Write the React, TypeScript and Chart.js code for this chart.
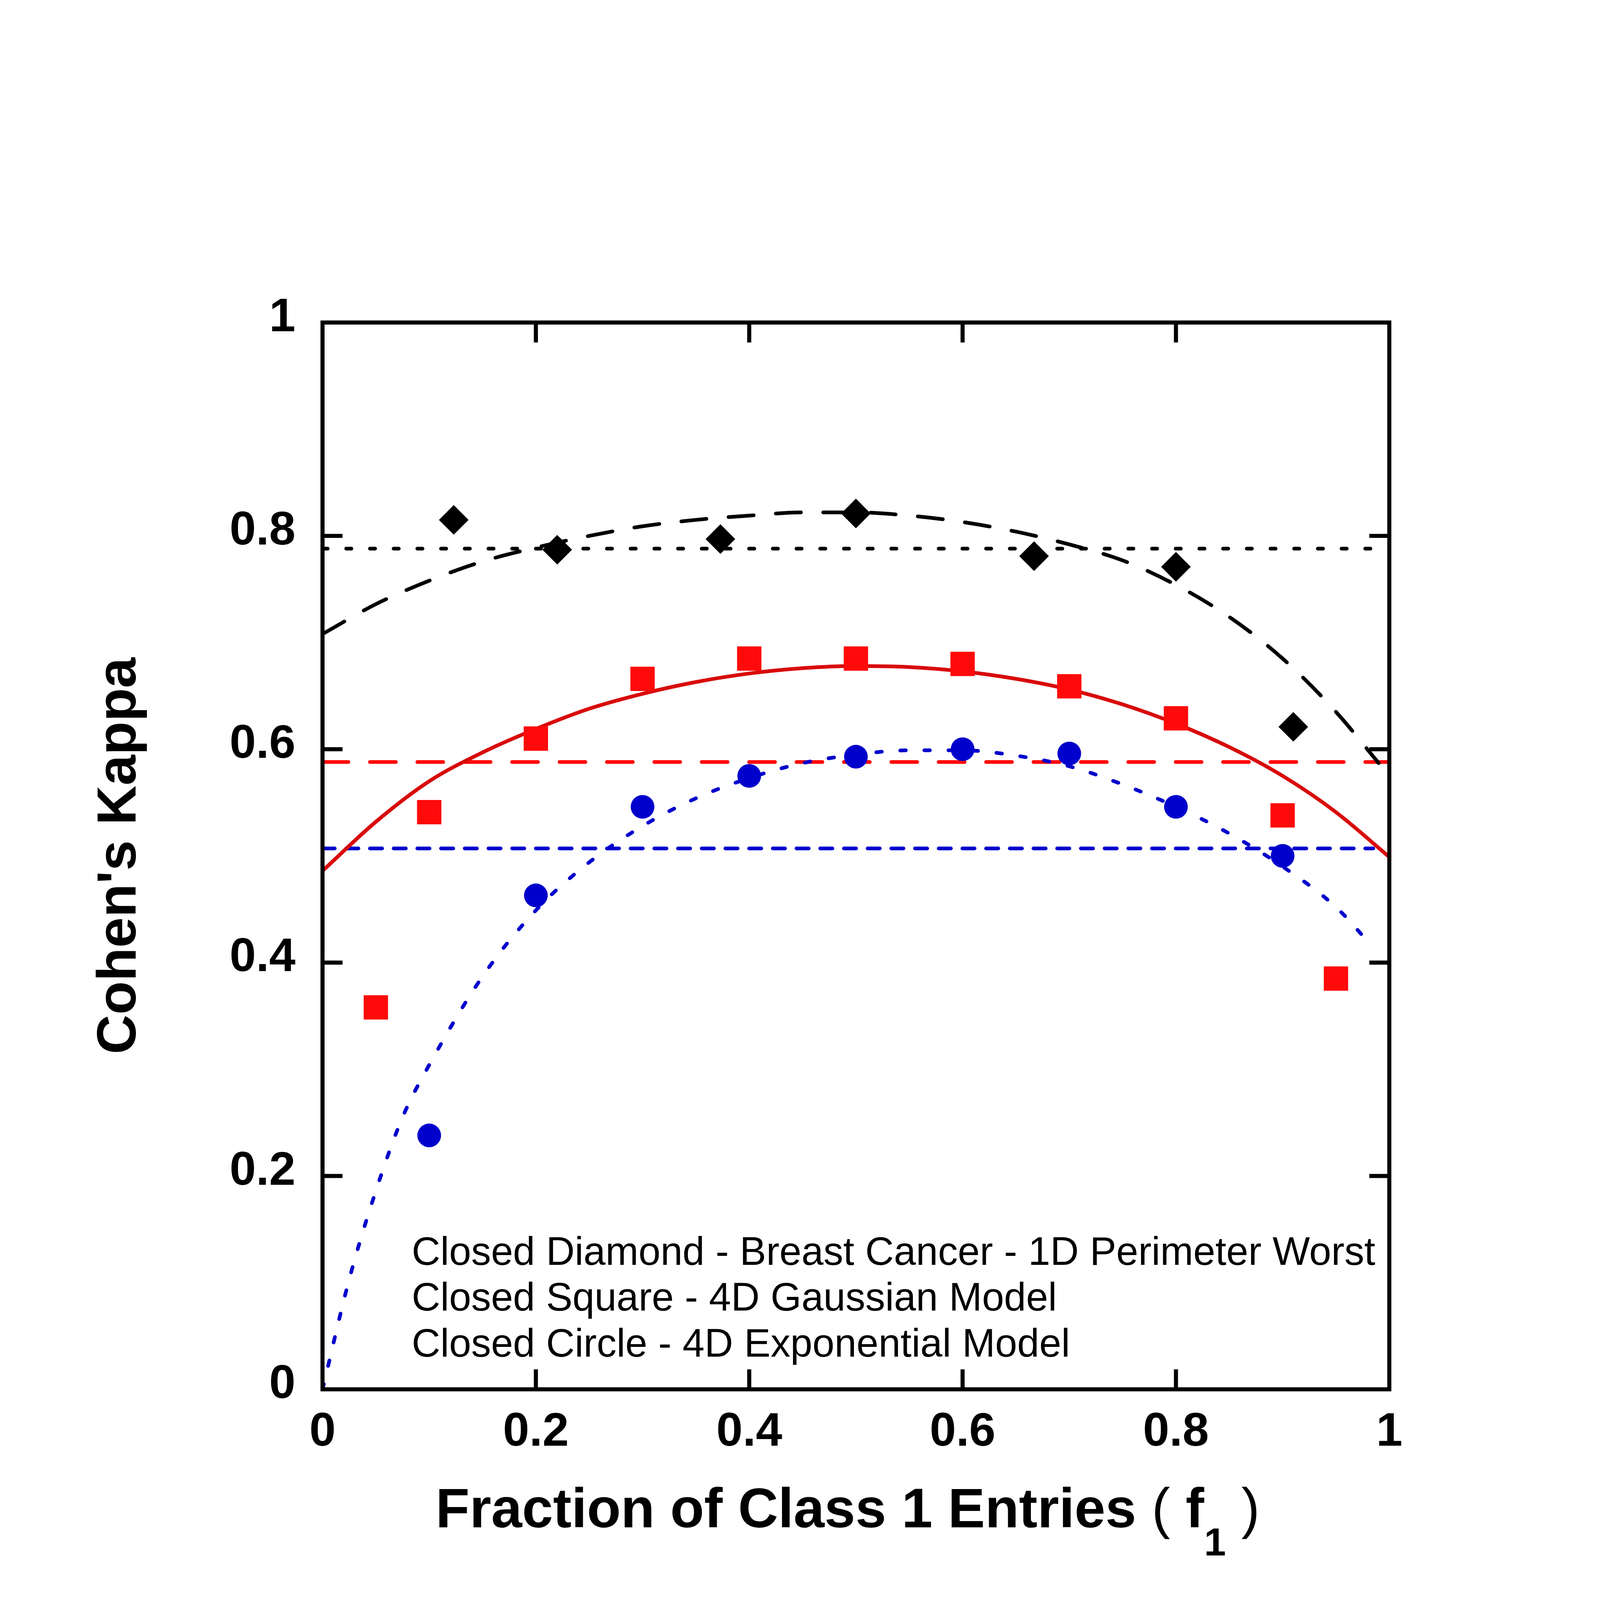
import { useEffect, useRef } from 'react';
import { Chart, registerables } from 'chart.js';

Chart.register(...registerables);

// measured points
const diamondX = [0.123, 0.22, 0.373, 0.5, 0.667, 0.8, 0.91];
const diamondY = [0.815, 0.787, 0.797, 0.821, 0.781, 0.771, 0.621];

const squareX = [0.05, 0.1, 0.2, 0.3, 0.4, 0.5, 0.6, 0.7, 0.8, 0.9, 0.95];
const squareY = [0.358, 0.541, 0.61, 0.666, 0.685, 0.685, 0.68, 0.659, 0.629, 0.538, 0.385];

const circleX = [0.1, 0.2, 0.3, 0.4, 0.5, 0.6, 0.7, 0.8, 0.9];
const circleY = [0.238, 0.463, 0.546, 0.575, 0.593, 0.6, 0.596, 0.546, 0.5];

// fitted curves
const bcFitX = [0, 0.05, 0.1, 0.15, 0.2, 0.25, 0.3, 0.35, 0.4, 0.45, 0.5, 0.55, 0.6, 0.65, 0.7, 0.75, 0.8, 0.85, 0.9, 0.95, 0.99];
const bcFitY = [0.708, 0.736, 0.758, 0.776, 0.789, 0.8, 0.809, 0.815, 0.819, 0.822, 0.822, 0.819, 0.813, 0.804, 0.792, 0.777, 0.754, 0.724, 0.685, 0.635, 0.587];

const gaussFitX = [0, 0.05, 0.1, 0.15, 0.2, 0.25, 0.3, 0.35, 0.4, 0.45, 0.5, 0.55, 0.6, 0.65, 0.7, 0.75, 0.8, 0.85, 0.9, 0.95, 1.0];
const gaussFitY = [0.486, 0.532, 0.57, 0.597, 0.619, 0.638, 0.652, 0.663, 0.671, 0.676, 0.678, 0.677, 0.673, 0.666, 0.656, 0.642, 0.624, 0.602, 0.575, 0.541, 0.499];

const expFitX = [0, 0.025, 0.05, 0.075, 0.1, 0.15, 0.2, 0.25, 0.3, 0.35, 0.4, 0.45, 0.5, 0.55, 0.6, 0.65, 0.7, 0.75, 0.8, 0.85, 0.9, 0.95, 0.985];
const expFitY = [0, 0.103, 0.186, 0.255, 0.304, 0.387, 0.449, 0.494, 0.528, 0.554, 0.573, 0.587, 0.595, 0.599, 0.599, 0.594, 0.584, 0.567, 0.546, 0.521, 0.49, 0.452, 0.414];

// mean levels (horizontal lines)
const meanX = [0, 0.985];
const bcMean = [0.788, 0.788];
const gaussMean = [0.588, 0.588];
const expMean = [0.507, 0.507];

const notes = [
  'Closed Diamond - Breast Cancer - 1D Perimeter Worst',
  'Closed Square - 4D Gaussian Model',
  'Closed Circle - 4D Exponential Model',
];

const FONT = "'Liberation Sans', Arial, Helvetica, sans-serif";
const SIZE = 4321;

const pts = (xs: number[], ys: number[]) => xs.map((x, i) => ({ x, y: ys[i] }));

const ChartView = () => {
  const canvasRef = useRef<HTMLCanvasElement>(null);
  const W = Math.min(window.innerWidth || SIZE, window.innerHeight || SIZE, SIZE);
  const s = W / SIZE;
  const k = (v: number) => v * s;

  useEffect(() => {
    if (!canvasRef.current) return;
    const black = '#000000';
    const red = '#ff0a0a';
    const redLine = '#d80a0a';
    const blue = '#0000cc';

    const framePlugin = {
      id: 'frame',
      afterDatasetsDraw(chart: any) {
        const { ctx, chartArea, scales } = chart;
        const { left, right, top, bottom } = chartArea;
        const x = scales.x;
        const y = scales.y;
        const len = k(54);
        ctx.save();
        ctx.setLineDash([]);
        ctx.strokeStyle = '#000';
        ctx.lineWidth = k(11);
        ctx.lineCap = 'butt';
        ctx.beginPath();
        x.ticks.forEach((t: any) => {
          if (t.value <= x.min || t.value >= x.max) return;
          const px = x.getPixelForValue(t.value);
          ctx.moveTo(px, bottom);
          ctx.lineTo(px, bottom - len);
          ctx.moveTo(px, top);
          ctx.lineTo(px, top + len);
        });
        y.ticks.forEach((t: any) => {
          if (t.value <= y.min || t.value >= y.max) return;
          const py = y.getPixelForValue(t.value);
          ctx.moveTo(left, py);
          ctx.lineTo(left + len, py);
          ctx.moveTo(right, py);
          ctx.lineTo(right - len, py);
        });
        ctx.stroke();
        ctx.lineJoin = 'miter';
        ctx.strokeRect(left, top, right - left, bottom - top);
        ctx.restore();
      },
    };

    const textPlugin = {
      id: 'texts',
      afterDraw(chart: any) {
        const { ctx, chartArea } = chart;
        const { left, right, bottom } = chartArea;
        ctx.save();
        ctx.fillStyle = '#000';
        ctx.textBaseline = 'alphabetic';
        ctx.textAlign = 'left';

        // notes inside the plot
        ctx.font = `normal ${k(107)}px ${FONT}`;
        const noteBase = [bottom - k(336), bottom - k(213), bottom - k(88)];
        notes.forEach((t, i) => ctx.fillText(t, left + k(241), noteBase[i]));

        // x axis title with subscript
        const parts = [
          { t: 'Fraction of Class 1 Entries ', f: `bold ${k(150)}px ${FONT}`, dy: 0 },
          { t: '(', f: `normal ${k(150)}px ${FONT}`, dy: 0 },
          { t: ' f', f: `bold ${k(150)}px ${FONT}`, dy: 0 },
          { t: '1', f: `bold ${k(106)}px ${FONT}`, dy: k(76) },
          { t: ' ', f: `bold ${k(150)}px ${FONT}`, dy: 0 },
          { t: ')', f: `normal ${k(150)}px ${FONT}`, dy: 0 },
        ];
        let total = 0;
        const widths = parts.map((p) => {
          ctx.font = p.f;
          const w = ctx.measureText(p.t).width;
          total += w;
          return w;
        });
        let cx = (left + right) / 2 - k(22) - total / 2;
        const base = bottom + k(373);
        parts.forEach((p, i) => {
          ctx.font = p.f;
          ctx.fillText(p.t, cx, base + p.dy);
          cx += widths[i];
        });
        ctx.restore();
      },
    };

    const marker = (label: string, data: any, color: string, style: string, r: number) => ({
      label,
      data,
      showLine: false,
      pointStyle: style,
      pointRadius: k(r),
      pointHoverRadius: k(r),
      pointBackgroundColor: color,
      pointBorderWidth: 0,
      pointBorderColor: color,
    });

    const line = (label: string, data: any, color: string, dash: number[], smooth: boolean) => ({
      label,
      data,
      showLine: true,
      pointRadius: 0,
      pointHoverRadius: 0,
      borderColor: color,
      borderWidth: k(10),
      borderDash: dash.map(k),
      borderCapStyle: dash.length ? 'round' : 'butt',
      cubicInterpolationMode: smooth ? 'monotone' : 'default',
      fill: false,
    });

    const tickLabel = (v: any) => `${+Number(v).toFixed(2)}`;

    const chart = new Chart(canvasRef.current, {
      type: 'scatter',
      data: {
        datasets: [
          marker('Breast Cancer', pts(diamondX, diamondY), black, 'rectRot', 40),
          marker('4D Gaussian', pts(squareX, squareY), red, 'rect', 46.5),
          marker('4D Exponential', pts(circleX, circleY), blue, 'circle', 32),
          line('Breast Cancer fit', pts(bcFitX, bcFitY), black, [68, 60], true),
          line('Gaussian fit', pts(gaussFitX, gaussFitY), redLine, [], true),
          line('Exponential fit', pts(expFitX, expFitY), blue, [15, 50], true),
          line('Breast Cancer mean', pts(meanX, bcMean), black, [14, 50], false),
          line('Gaussian mean', pts([0, 1], gaussMean), red, [70, 58], false),
          line('Exponential mean', pts(meanX, expMean), blue, [33, 31], false),
        ] as any,
      },
      options: {
        animation: false,
        responsive: false,
        devicePixelRatio: 1,
        layout: { padding: { top: k(871), right: W - k(3752), left: 0, bottom: 0 } },
        plugins: {
          legend: { display: false },
          tooltip: { enabled: false },
        },
        scales: {
          x: {
            type: 'linear',
            min: 0,
            max: 1,
            grid: { display: false, drawTicks: false },
            border: { display: false },
            ticks: {
              stepSize: 0.2,
              color: '#000',
              padding: k(53),
              maxRotation: 0,
              callback: tickLabel,
              font: { family: FONT, size: k(128), weight: 'bold', lineHeight: 1 },
            },
            title: { display: false },
            afterFit: (sc: any) => {
              sc.height = W - k(3752);
            },
          },
          y: {
            type: 'linear',
            min: 0,
            max: 1,
            grid: { display: false, drawTicks: false },
            border: { display: false },
            ticks: {
              stepSize: 0.2,
              color: '#000',
              padding: k(73),
              labelOffset: -k(12),
              callback: tickLabel,
              font: { family: FONT, size: k(128), weight: 'bold', lineHeight: 1 },
            },
            title: {
              display: true,
              text: "Cohen's Kappa",
              color: '#000',
              font: { family: FONT, size: k(148), weight: 'bold', lineHeight: 1 },
              padding: { top: k(251), bottom: 0 },
            },
            afterFit: (sc: any) => {
              sc.width = k(871);
            },
          },
        },
      } as any,
      plugins: [framePlugin, textPlugin],
    });
    return () => chart.destroy();
  }, []);

  return <canvas ref={canvasRef} width={W} height={W} style={{ display: 'block', width: W, height: W }} />;
};

export default function App() {
  return (
    <div style={{ position: 'absolute', left: 0, top: 0, background: '#fff' }}>
      <ChartView />
    </div>
  );
}
